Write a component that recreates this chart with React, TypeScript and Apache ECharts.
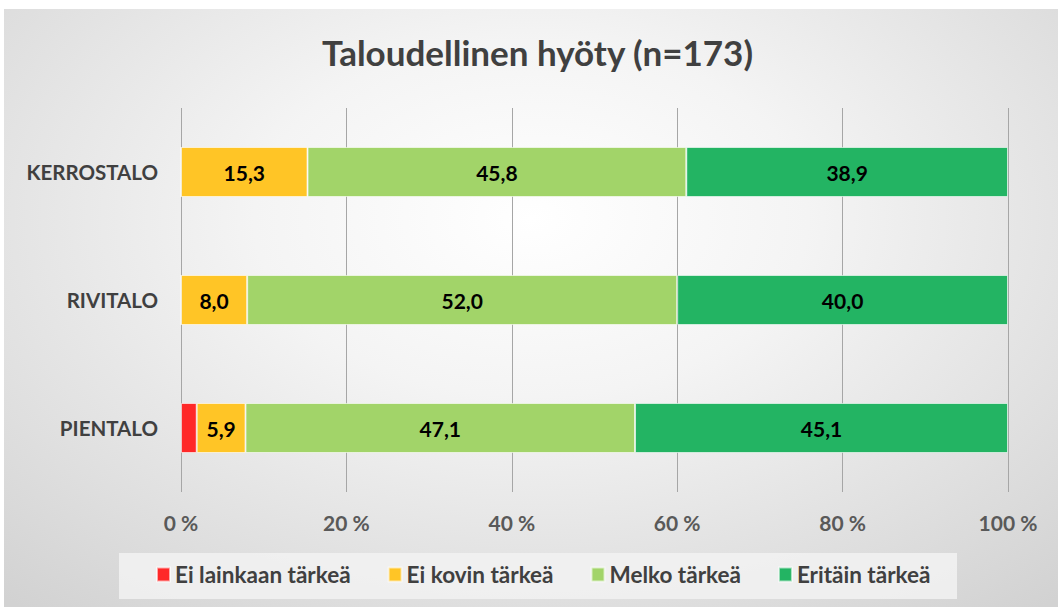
import React, { useEffect, useRef } from "react";
import * as echarts from "echarts";

const categories = ["PIENTALO", "RIVITALO", "KERROSTALO"];
const seriesNames = ["Ei lainkaan tärkeä", "Ei kovin tärkeä", "Melko tärkeä", "Eritäin tärkeä"];
const eiLainkaan = [1.9, 0, 0];
const eiKovin = [5.9, 8.0, 15.3];
const melko = [47.1, 52.0, 45.8];
const eritain = [45.1, 40.0, 38.9];
const xTicks = [0, 20, 40, 60, 80, 100];
const colors = ["#FF2828", "#FFC526", "#A2D469", "#23B463"];

const FONT = "Lato";

export default function App() {
  const ref = useRef<HTMLDivElement>(null);
  useEffect(() => {
    if (!ref.current) return;
    const chart = echarts.init(ref.current, undefined, { renderer: "svg" });
    const values = [eiLainkaan, eiKovin, melko, eritain];
    chart.setOption({
      animation: false,
      backgroundColor: "transparent",
      textStyle: { fontFamily: FONT },
      title: {
        text: "Taloudellinen hyöty (n=173)",
        left: 313,
        top: 20,
        textStyle: { fontFamily: FONT, fontSize: 35, fontWeight: "bold", color: "#404040" },
      },
      graphic: [
        {
          type: "rect",
          z: -1,
          shape: { x: 115, y: 544, width: 838, height: 46 },
          style: { fill: "rgba(242,242,242,0.85)" },
        },
      ],
      legend: {
        data: seriesNames,
        top: 549,
        left: 147,
        itemWidth: 13,
        itemHeight: 14,
        itemGap: 37,
        textStyle: { fontFamily: FONT, fontSize: 22.5, fontWeight: "bold", color: "#404040" },
        icon: "rect",
      },
      grid: { left: 177, right: 50, top: 99, bottom: 115, containLabel: false },
      xAxis: {
        type: "value",
        min: 0,
        max: 100,
        interval: 20,
        axisLine: { show: false },
        axisTick: { show: false },
        splitLine: { lineStyle: { color: "#a6a6a6", width: 1 } },
        axisLabel: {
          margin: 20,
          fontFamily: FONT,
          fontSize: 21,
          fontWeight: "bold",
          color: "#595959",
          formatter: (v: number) => (xTicks.includes(v) ? `${v} %` : ""),
        },
      },
      yAxis: {
        type: "category",
        data: categories,
        axisLine: { show: false },
        axisTick: { show: false },
        axisLabel: {
          margin: 23,
          fontFamily: FONT,
          fontSize: 20.5,
          fontWeight: "bold",
          color: "#404040",
        },
      },
      series: seriesNames.map((name, i) => ({
        name,
        type: "bar",
        stack: "total",
        barWidth: 50,
        data: values[i],
        itemStyle: {
          color: colors[i],
          borderColor: "rgba(255,255,255,0.6)",
          borderWidth: 1,
        },
        label: {
          show: true,
          position: "inside",
          fontFamily: FONT,
          fontSize: 21,
          fontWeight: "bold",
          color: "#000",
          formatter: (p: any) => (p.value >= 3 ? p.value.toFixed(1).replace(".", ",") : ""),
        },
      })),
    });
    return () => chart.dispose();
  }, []);
  return (
    <div
      ref={ref}
      style={{
        position: "absolute",
        left: 4,
        top: 9,
        width: 1054,
        height: 598,
        background: "radial-gradient(ellipse 75% 85% at 50% 35%, #ffffff 0%, #f4f4f4 35%, #d2d2d2 100%)",
      }}
    />
  );
}
